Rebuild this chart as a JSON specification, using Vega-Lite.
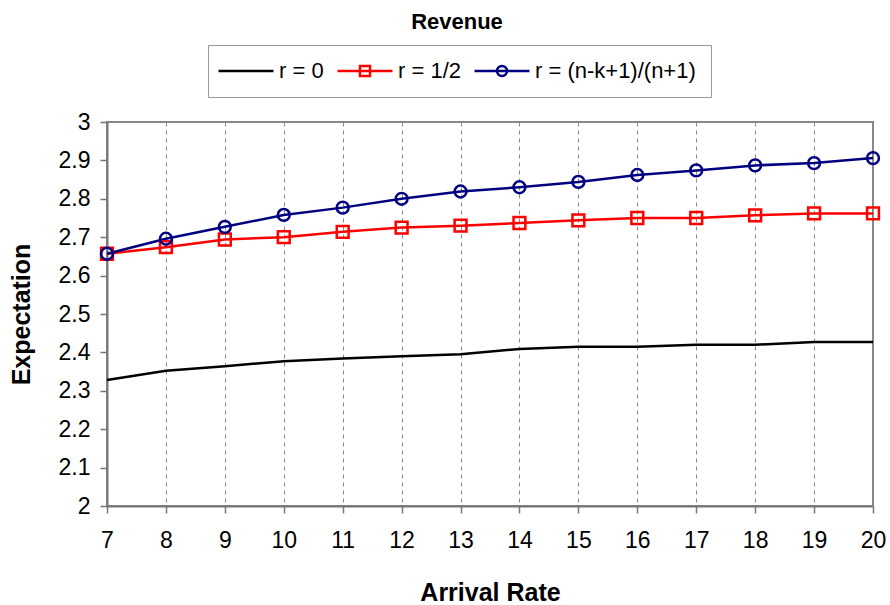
{
  "$schema": "https://vega.github.io/schema/vega-lite/v6.json",
  "autosize": {"type": "none"},
  "width": 766,
  "height": 384,
  "padding": {"left": 107, "top": 122, "right": 17, "bottom": 99},
  "title": {
    "text": "Revenue",
    "font": "Liberation Sans",
    "fontSize": 22,
    "fontWeight": "bold",
    "color": "#000000",
    "anchor": "middle",
    "dx": -33,
    "dy": -7,
    "frame": "group"
  },
  "data": {
    "values": [
      {"rate": 7, "exp": 2.328, "s": "r = 0"},
      {"rate": 8, "exp": 2.352, "s": "r = 0"},
      {"rate": 9, "exp": 2.364, "s": "r = 0"},
      {"rate": 10, "exp": 2.377, "s": "r = 0"},
      {"rate": 11, "exp": 2.384, "s": "r = 0"},
      {"rate": 12, "exp": 2.39, "s": "r = 0"},
      {"rate": 13, "exp": 2.395, "s": "r = 0"},
      {"rate": 14, "exp": 2.409, "s": "r = 0"},
      {"rate": 15, "exp": 2.415, "s": "r = 0"},
      {"rate": 16, "exp": 2.415, "s": "r = 0"},
      {"rate": 17, "exp": 2.42, "s": "r = 0"},
      {"rate": 18, "exp": 2.42, "s": "r = 0"},
      {"rate": 19, "exp": 2.427, "s": "r = 0"},
      {"rate": 20, "exp": 2.427, "s": "r = 0"},
      {"rate": 7, "exp": 2.657, "s": "r = 1/2"},
      {"rate": 8, "exp": 2.674, "s": "r = 1/2"},
      {"rate": 9, "exp": 2.694, "s": "r = 1/2"},
      {"rate": 10, "exp": 2.7, "s": "r = 1/2"},
      {"rate": 11, "exp": 2.714, "s": "r = 1/2"},
      {"rate": 12, "exp": 2.725, "s": "r = 1/2"},
      {"rate": 13, "exp": 2.73, "s": "r = 1/2"},
      {"rate": 14, "exp": 2.737, "s": "r = 1/2"},
      {"rate": 15, "exp": 2.744, "s": "r = 1/2"},
      {"rate": 16, "exp": 2.75, "s": "r = 1/2"},
      {"rate": 17, "exp": 2.75, "s": "r = 1/2"},
      {"rate": 18, "exp": 2.757, "s": "r = 1/2"},
      {"rate": 19, "exp": 2.762, "s": "r = 1/2"},
      {"rate": 20, "exp": 2.762, "s": "r = 1/2"},
      {"rate": 7, "exp": 2.657, "s": "r = (n-k+1)/(n+1)"},
      {"rate": 8, "exp": 2.696, "s": "r = (n-k+1)/(n+1)"},
      {"rate": 9, "exp": 2.727, "s": "r = (n-k+1)/(n+1)"},
      {"rate": 10, "exp": 2.758, "s": "r = (n-k+1)/(n+1)"},
      {"rate": 11, "exp": 2.777, "s": "r = (n-k+1)/(n+1)"},
      {"rate": 12, "exp": 2.8, "s": "r = (n-k+1)/(n+1)"},
      {"rate": 13, "exp": 2.819, "s": "r = (n-k+1)/(n+1)"},
      {"rate": 14, "exp": 2.83, "s": "r = (n-k+1)/(n+1)"},
      {"rate": 15, "exp": 2.844, "s": "r = (n-k+1)/(n+1)"},
      {"rate": 16, "exp": 2.862, "s": "r = (n-k+1)/(n+1)"},
      {"rate": 17, "exp": 2.874, "s": "r = (n-k+1)/(n+1)"},
      {"rate": 18, "exp": 2.887, "s": "r = (n-k+1)/(n+1)"},
      {"rate": 19, "exp": 2.893, "s": "r = (n-k+1)/(n+1)"},
      {"rate": 20, "exp": 2.906, "s": "r = (n-k+1)/(n+1)"}
    ]
  },
  "encoding": {
    "x": {
      "field": "rate",
      "type": "quantitative",
      "title": "Arrival Rate",
      "scale": {"domain": [7, 20], "nice": false, "zero": false},
      "axis": {
        "values": [7, 8, 9, 10, 11, 12, 13, 14, 15, 16, 17, 18, 19, 20],
        "grid": true,
        "gridDash": [4, 4],
        "gridColor": "#888888",
        "gridWidth": 1,
        "tickSize": 7,
        "labelPadding": 16,
        "titlePadding": 28
      }
    },
    "y": {
      "field": "exp",
      "type": "quantitative",
      "title": "Expectation",
      "scale": {"domain": [2, 3], "nice": false, "zero": false},
      "axis": {
        "values": [2, 2.1, 2.2, 2.3, 2.4, 2.5, 2.6, 2.7, 2.8, 2.9, 3],
        "format": ".1~f",
        "grid": false,
        "tickSize": 7,
        "labelPadding": 10,
        "titlePadding": 24
      }
    },
    "color": {
      "field": "s",
      "type": "nominal",
      "sort": ["r = 0", "r = 1/2", "r = (n-k+1)/(n+1)"],
      "scale": {
        "domain": ["r = 0", "r = 1/2", "r = (n-k+1)/(n+1)"],
        "range": ["#000000", "#ff0000", "#000080"]
      },
      "legend": {
        "title": null,
        "orient": "none",
        "direction": "horizontal",
        "legendX": 101,
        "legendY": -77,
        "padding": 15,
        "strokeColor": "#999999",
        "symbolSize": 336,
        "symbolStrokeWidth": 2.4,
        "symbolFillColor": "transparent",
        "symbolOffset": 12,
        "labelOffset": 22,
        "labelLimit": 400,
        "columnPadding": 8,
        "labelFont": "Liberation Sans",
        "labelFontSize": 22,
        "labelColor": "#000000",
        "encode": {
          "symbols": {
            "update": {
              "shape": {
                "signal": "datum.value === 'r = 0' ? 'M-3,0H3' : datum.value === 'r = 1/2' ? 'M-3,0H3M-0.55,-0.55H0.55V0.55H-0.55Z' : 'M-3,0H3M-0.55,0A0.55,0.55,0,1,1,0.55,0A0.55,0.55,0,1,1,-0.55,0Z'"
              },
              "fill": {"value": "transparent"}
            }
          }
        }
      }
    }
  },
  "layer": [
    {
      "mark": {"type": "line", "strokeWidth": 2.5}
    },
    {
      "transform": [{"filter": "datum.s !== 'r = 0'"}],
      "mark": {"type": "point", "filled": false, "strokeWidth": 2.5, "size": 140, "opacity": 1},
      "encoding": {
        "shape": {
          "field": "s",
          "type": "nominal",
          "scale": {
            "domain": ["r = 1/2", "r = (n-k+1)/(n+1)"],
            "range": ["square", "circle"]
          },
          "legend": null
        }
      }
    }
  ],
  "config": {
    "font": "Liberation Sans",
    "view": {"stroke": "#888888", "strokeWidth": 2},
    "axis": {
      "labelFont": "Liberation Sans",
      "labelFontSize": 23,
      "labelColor": "#000000",
      "labelFlush": false,
      "labelOverlap": false,
      "titleFont": "Liberation Sans",
      "titleFontSize": 25,
      "titleFontWeight": "bold",
      "titleColor": "#000000",
      "domainColor": "#777777",
      "domainWidth": 2,
      "tickColor": "#777777",
      "tickWidth": 1.5
    }
  }
}
